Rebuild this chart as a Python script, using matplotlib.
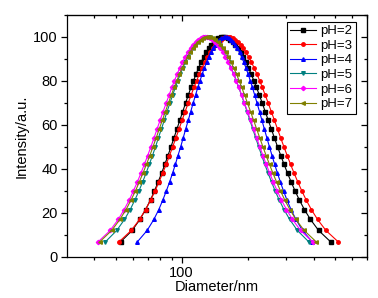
import matplotlib
matplotlib.use("Agg")
import matplotlib.pyplot as plt
from matplotlib.ticker import FixedLocator, NullFormatter, FixedFormatter

plt.rcParams["font.family"] = ["Liberation Sans", "DejaVu Sans"]

# intensity levels shared by every sample (rise, peak, fall)
intensity = [6.8, 12, 17, 21.5, 26, 30, 34, 38, 42, 46, 50, 54, 58, 62, 66, 70,
             73.5, 77, 80, 83, 86, 88.5, 91, 93, 95, 96.5, 97.8, 98.8, 99.5, 99.9, 100,
             99.9, 99.5, 98.8, 97.8, 96.5, 95, 93, 91, 88.5, 86, 83, 80, 77, 73.5, 70,
             66, 62, 58, 54, 50, 46, 42, 38, 34, 30, 26, 21.5, 17, 12, 6.8]

# diameters (nm)
d_ph2 = [52.7, 59.5, 64.5, 68.5, 72.2, 75.2, 78.1, 81.0, 83.8, 86.6, 89.4, 92.2, 95.1,
         98.0, 101.1, 104.3, 107.2, 110.3, 113.2, 116.2, 119.6, 122.7, 126.1, 129.2,
         133.0, 136.2, 139.8, 143.5, 147.2, 151.0, 154.2,
         157.6, 161.9, 166.3, 170.9, 175.6, 180.2, 185.7, 190.6, 196.2, 201.6, 207.7,
         213.6, 219.4, 226.2, 232.9, 240.5, 248.5, 256.6, 265.0, 273.8, 283.2, 293.2,
         303.9, 315.8, 328.9, 343.5, 362.8, 386.6, 421.2, 478.2]
d_ph3 = [51.8, 58.9, 64.3, 68.5, 72.4, 75.7, 78.8, 81.9, 85.0, 88.0, 91.0, 94.1, 97.2,
         100.4, 103.7, 107.2, 110.4, 113.8, 116.9, 120.3, 124.0, 127.4, 131.2, 134.7,
         138.8, 142.5, 146.5, 150.6, 154.7, 159.0, 162.6,
         166.3, 170.9, 175.6, 180.6, 185.7, 190.7, 196.7, 201.9, 208.1, 213.8, 220.6,
         227.0, 233.3, 240.5, 248.0, 256.4, 265.0, 273.8, 283.0, 292.7, 302.9, 313.9,
         325.7, 338.7, 353.0, 369.0, 390.3, 416.5, 454.8, 517.8]
d_ph4 = [62.8, 69.6, 74.7, 78.7, 82.2, 85.2, 88.1, 90.9, 93.6, 96.2, 99.0, 101.6, 104.3,
         107.1, 110.0, 112.9, 115.7, 118.5, 121.2, 124.0, 127.1, 129.9, 133.0, 135.9,
         139.2, 142.2, 145.4, 148.6, 151.9, 155.3, 158.1,
         161.0, 164.5, 168.1, 171.8, 175.7, 179.3, 183.7, 187.6, 192.0, 196.3, 201.1,
         205.7, 210.2, 215.4, 220.5, 226.5, 232.4, 238.5, 244.8, 251.4, 258.3, 265.6,
         273.5, 282.0, 291.3, 301.7, 315.3, 331.9, 355.7, 394.1]
d_ph5 = [44.9, 50.6, 54.9, 58.3, 61.3, 63.9, 66.4, 68.8, 71.2, 73.6, 76.0, 78.3, 80.8,
         83.3, 85.8, 88.5, 91.0, 93.6, 96.0, 98.6, 101.4, 104.0, 107.0, 109.6, 112.7,
         115.5, 118.5, 121.6, 124.7, 127.9, 130.6,
         133.4, 136.8, 140.3, 144.0, 147.7, 151.4, 155.7, 159.5, 164.0, 168.2, 173.1,
         177.7, 182.2, 187.5, 192.8, 198.8, 204.9, 211.3, 217.8, 224.6, 231.8, 239.5,
         247.9, 256.9, 266.9, 278.1, 292.8, 310.9, 337.1, 380.0]
d_ph6 = [41.6, 47.2, 51.4, 54.7, 57.8, 60.3, 62.8, 65.2, 67.6, 70.0, 72.4, 74.8, 77.2,
         79.7, 82.3, 85.1, 87.6, 90.2, 92.7, 95.3, 98.2, 100.9, 103.9, 106.6, 109.8,
         112.6, 115.7, 118.9, 122.1, 125.4, 128.2,
         131.1, 134.6, 138.3, 142.1, 146.0, 149.8, 154.3, 158.3, 163.0, 167.4, 172.5,
         177.4, 182.2, 187.8, 193.3, 199.7, 206.3, 213.0, 219.9, 227.1, 234.9, 243.2,
         252.1, 261.8, 272.6, 284.7, 300.5, 320.1, 348.6, 395.6]
d_ph7 = [42.3, 48.0, 52.3, 55.8, 58.9, 61.6, 64.1, 66.6, 69.1, 71.6, 74.0, 76.5, 79.0,
         81.6, 84.3, 87.1, 89.7, 92.5, 95.0, 97.7, 100.7, 103.5, 106.6, 109.3, 112.7,
         115.6, 118.9, 122.2, 125.5, 128.9, 131.8,
         134.8, 138.5, 142.2, 146.2, 150.3, 154.2, 158.9, 163.1, 168.0, 172.5, 177.9,
         183.0, 187.9, 193.7, 199.5, 206.2, 213.0, 220.0, 227.2, 234.8, 242.9, 251.5,
         260.8, 271.0, 282.2, 294.8, 311.5, 332.0, 361.9, 411.1]

labels = ["pH=2", "pH=3", "pH=4", "pH=5", "pH=6", "pH=7"]
series = [d_ph2, d_ph3, d_ph4, d_ph5, d_ph6, d_ph7]
colors = ["#000000", "#FF0000", "#0000FF", "#008080", "#FF00FF", "#808000"]
markers = ["s", "o", "^", "v", "D", "<"]
msizes = [2.3, 2.5, 2.6, 2.6, 2.2, 2.6]

XMINOR = [40, 50, 60, 70, 80, 90, 200, 300, 400, 500, 600, 700]
YMAJOR = [0, 20, 40, 60, 80, 100]

fig = plt.figure(figsize=(3.78, 2.98), dpi=100)
ax = fig.add_axes([0.177, 0.138, 0.794, 0.812])

for d, lab, c, m, ms in zip(series, labels, colors, markers, msizes):
    ax.plot(d, intensity, color=c, marker=m, ms=ms, lw=0.8, mec=c, mfc=c, label=lab)

ax.set_xscale("log")
ax.set_xlim(30, 700)
ax.set_ylim(0, 110)
ax.xaxis.set_major_locator(FixedLocator([100]))
ax.xaxis.set_major_formatter(FixedFormatter(["100"]))
ax.xaxis.set_minor_locator(FixedLocator(XMINOR))
ax.xaxis.set_minor_formatter(NullFormatter())
ax.set_yticks(YMAJOR)
ax.yaxis.set_minor_locator(FixedLocator(range(10, 111, 20)))

ax.tick_params(which="both", direction="out", top=False, right=False, labelsize=10.5, width=0.9)
ax.tick_params(which="major", length=4.5)
ax.tick_params(which="minor", length=2.5)
ax.tick_params(axis="x", pad=2)
ax.tick_params(axis="y", pad=2)

# inward mirrored ticks on top and right
sec_x = ax.secondary_xaxis("top")
sec_x.xaxis.set_major_locator(FixedLocator([100]))
sec_x.xaxis.set_minor_locator(FixedLocator(XMINOR))
sec_x.tick_params(which="both", direction="in", labeltop=False, width=0.9)
sec_x.tick_params(which="major", length=4.5)
sec_x.tick_params(which="minor", length=2.5)
sec_x.xaxis.set_minor_formatter(NullFormatter())
sec_x.xaxis.set_major_formatter(NullFormatter())
sec_y = ax.secondary_yaxis("right")
sec_y.set_yticks(YMAJOR)
sec_y.yaxis.set_minor_locator(FixedLocator(range(10, 111, 20)))
sec_y.tick_params(which="both", direction="in", labelright=False, width=0.9)
sec_y.tick_params(which="major", length=4.5)
sec_y.tick_params(which="minor", length=2.5)

for sp in ax.spines.values():
    sp.set_linewidth(0.9)

ax.set_xlabel("Diameter/nm", fontsize=10.5, labelpad=0)
ax.set_ylabel("Intensity/a.u.", fontsize=10.5, labelpad=3)

leg = ax.legend(loc="upper right", bbox_to_anchor=(0.962, 0.972), fontsize=9.5,
                numpoints=1, handlelength=2.0, handletextpad=0.3, labelspacing=0.18,
                borderpad=0.25, borderaxespad=0.0, fancybox=False, framealpha=1,
                edgecolor="black")
leg.get_frame().set_linewidth(0.8)

fig.savefig("out.png", dpi=100)
